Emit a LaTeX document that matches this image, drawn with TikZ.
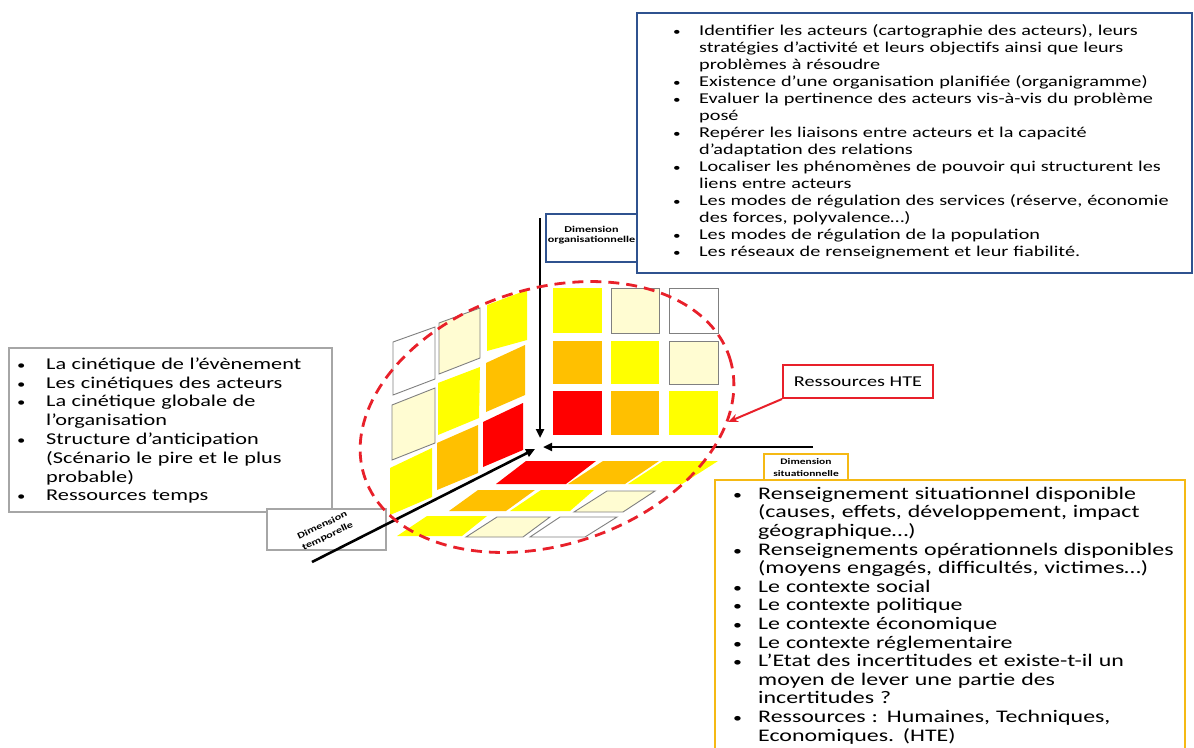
\documentclass[tikz,border=0pt]{standalone}
\usepackage{fontspec}
\setmainfont{Carlito}[FakeStretch=1.35]
\usetikzlibrary{arrows.meta}
\definecolor{cYel}{HTML}{FFFF00}
\definecolor{cOra}{HTML}{FFC000}
\definecolor{cRed}{HTML}{FF0000}
\definecolor{cCre}{HTML}{FFFCD2}
\definecolor{cOut}{HTML}{808080}
\definecolor{bBlue}{HTML}{2F528F}
\definecolor{bGold}{HTML}{F5B914}
\definecolor{bGray}{HTML}{A6A6A6}
\definecolor{eRed}{HTML}{E8202A}
\newcommand{\bitem}[2]{\noindent\hangindent=#1\hangafter=1\makebox[#1][l]{\strut\hspace{2pt}\scalebox{0.75}{•}}#2\par}
\tikzset{
  cellY/.style={fill=cYel},
  cellO/.style={fill=cOra},
  cellR/.style={fill=cRed},
  cellC/.style={fill=cCre, draw=cOut, line width=0.9pt},
  cellW/.style={fill=white, draw=cOut, line width=0.9pt},
  axisline/.style={draw=black, line width=2.6pt, -{Triangle[length=9pt,width=8pt]}},
  bigbox/.style={fill=white, line width=2.6pt},
  listtxt/.style={anchor=north west, inner sep=0pt, text width=#1},
  dimlbl/.style={font=\fontsize{9}{10}\selectfont\bfseries, align=center, inner sep=0pt},
  dimbox/.style={fill=white, line width=2.4pt, inner sep=0pt},
  hteellipse/.style={draw=eRed, line width=2.8pt, dash pattern=on 11pt off 7pt},
}
\begin{document}
\begin{tikzpicture}[x=1pt,y=-1pt]
\useasboundingbox[fill=white] (0,0) rectangle (1194,747);

% ---------- right face (vertical, front) ----------
\path[cellY] (553,288) rectangle (602,333);
\path[cellC] (611,288) rectangle (659,333);
\path[cellW] (669,288) rectangle (718,333);
\path[cellO] (553,341) rectangle (602,384);
\path[cellY] (611,341) rectangle (659,384);
\path[cellC] (669,341) rectangle (718,384);
\path[cellR] (553,391) rectangle (602,435);
\path[cellO] (611,391) rectangle (659,435);
\path[cellY] (669,391) rectangle (718,435);

% ---------- left face (sheared) ----------
\path[cellW] (393,342) -- (435,327) -- (435,379) -- (393,395) -- cycle;
\path[cellC] (439,323) -- (480,308) -- (480,358) -- (439,374) -- cycle;
\path[cellY] (487,305) -- (527,290) -- (527,340) -- (487,351) -- cycle;
\path[cellC] (392,405) -- (435,388) -- (435,443) -- (392,460) -- cycle;
\path[cellY] (438,383) -- (480,367) -- (479,418) -- (438,435) -- cycle;
\path[cellO] (486,363) -- (525,345) -- (525,395) -- (486,412) -- cycle;
\path[cellY] (390,468) -- (432,448) -- (432,497) -- (390,515) -- cycle;
\path[cellO] (437,443) -- (478,425) -- (478,473) -- (437,490) -- cycle;
\path[cellR] (483,422) -- (523,403) -- (523,450) -- (483,467) -- cycle;

% ---------- floor ----------
\path[cellR] (526,461) -- (596,461) -- (566,484) -- (496,484) -- cycle;
\path[cellO] (603,461) -- (659,461) -- (625,484) -- (568,484) -- cycle;
\path[cellY] (663,461) -- (718,461) -- (682,484) -- (628,484) -- cycle;
\path[cellO] (478,490) -- (535,490) -- (506,511) -- (449,511) -- cycle;
\path[cellY] (541,490) -- (594,490) -- (570,511) -- (510,511) -- cycle;
\path[cellC] (607,491) -- (655,491) -- (623,512) -- (574,512) -- cycle;
\path[cellY] (427,516) -- (487,516) -- (462,536) -- (397,536) -- cycle;
\path[cellC] (497,517) -- (550,517) -- (523,537) -- (466,537) -- cycle;
\path[cellW] (560,517) -- (617,517) -- (585,537) -- (530,537) -- cycle;

% ---------- boxes ----------
\node[dimbox, draw=bBlue, minimum width=91pt, minimum height=48pt] (orgbox) at (591.5,238) {};
\node[dimlbl] (orglbl) at (591.5,235) {Dimension\\organisationnelle};
\node[bigbox, draw=bBlue, minimum width=555pt, minimum height=260pt, inner sep=0pt] (topbox) at (914.5,143) {};
\node[bigbox, draw=bGray, minimum width=323pt, minimum height=164pt, inner sep=0pt] (leftbox) at (170.5,430) {};
\node[dimbox, draw=bGray, line width=2.6pt, minimum width=119pt, minimum height=41pt] (tempbox) at (326.5,529.5) {};
\node[dimlbl, font=\fontsize{9}{12}\selectfont\bfseries, rotate=26] (templbl) at (325,531) {Dimension\\temporelle};
\node[bigbox, draw=bGold, minimum width=470pt, minimum height=280pt, inner sep=0pt] (botbox) at (950,620) {};
\node[dimbox, draw=bGold, minimum width=84pt, minimum height=26pt] (sitbox) at (806,467) {};
\node[dimlbl, font=\fontsize{8.5}{12}\selectfont\bfseries] (sitlbl) at (806,468) {Dimension\\situationnelle};

% ---------- axes ----------
\coordinate (vtop) at (540,218);
\coordinate (vtip) at (540,438);
\coordinate (hend) at (813,447);
\coordinate (htip) at (543,447);
\coordinate (dend) at (312,562);
\coordinate (dtip) at (535,449);
\draw[axisline] (vtop) -- (vtip);
\draw[axisline] (hend) -- (htip);
\draw[axisline] (dend) -- (dtip);

% ---------- ellipse ----------
\coordinate (ectr) at (547,417);
\draw[hteellipse, rotate around={18:(ectr)}] (ectr) ellipse [x radius=192, y radius=128];

% ---------- Ressources HTE ----------
\node[draw=eRed, line width=2pt, fill=white, minimum width=150pt, minimum height=33pt, inner sep=0pt,
      font=\fontsize{15}{17}\selectfont] (hte) at (858,381.5) {Ressources HTE};
\coordinate (htetip) at (728,422);
\draw[draw=eRed, line width=2pt, -{Stealth[length=10pt,width=8pt]}] (hte.south west) -- (htetip);

% ---------- texts ----------
\node[listtxt=520pt, font=\fontsize{15}{17}\selectfont] (toptxt) at (671,23) {%
\bitem{28pt}{Identifier les acteurs (cartographie des acteurs), leurs\newline stratégies d’activité et leurs objectifs ainsi que leurs\newline problèmes à résoudre}
\bitem{28pt}{Existence d’une organisation planifiée (organigramme)}
\bitem{28pt}{Evaluer la pertinence des acteurs vis-à-vis du problème\newline posé}
\bitem{28pt}{Repérer les liaisons entre acteurs et la capacité\newline d’adaptation des relations}
\bitem{28pt}{Localiser les phénomènes de pouvoir qui structurent les\newline liens entre acteurs}
\bitem{28pt}{Les modes de régulation des services (réserve, économie\newline des forces, polyvalence…)}
\bitem{28pt}{Les modes de régulation de la population}
\bitem{28pt}{Les réseaux de renseignement et leur fiabilité.}};

\node[listtxt=315pt, font=\fontsize{16.5}{18.8}\selectfont] (lefttxt) at (15,356) {%
\bitem{31pt}{La cinétique de l’évènement}
\bitem{31pt}{Les cinétiques des acteurs}
\bitem{31pt}{La cinétique globale de\newline l’organisation}
\bitem{31pt}{Structure d’anticipation\newline (Scénario le pire et le plus\newline probable)}
\bitem{31pt}{Ressources temps}};

\node[listtxt=450pt, font=\fontsize{17.7}{18.6}\selectfont] (bottxt) at (731,486) {%
\bitem{27pt}{Renseignement situationnel disponible\newline (causes, effets, développement, impact\newline géographique…)}
\bitem{27pt}{Renseignements opérationnels disponibles\newline (moyens engagés, difficultés, victimes…)}
\bitem{27pt}{Le contexte social}
\bitem{27pt}{Le contexte politique}
\bitem{27pt}{Le contexte économique}
\bitem{27pt}{Le contexte réglementaire}
\bitem{27pt}{L’Etat des incertitudes et existe-t-il un\newline moyen de lever une partie des\newline incertitudes ?}
\bitem{27pt}{Ressources : Humaines, Techniques,\newline Economiques. (HTE)}};
\end{tikzpicture}
\end{document}
